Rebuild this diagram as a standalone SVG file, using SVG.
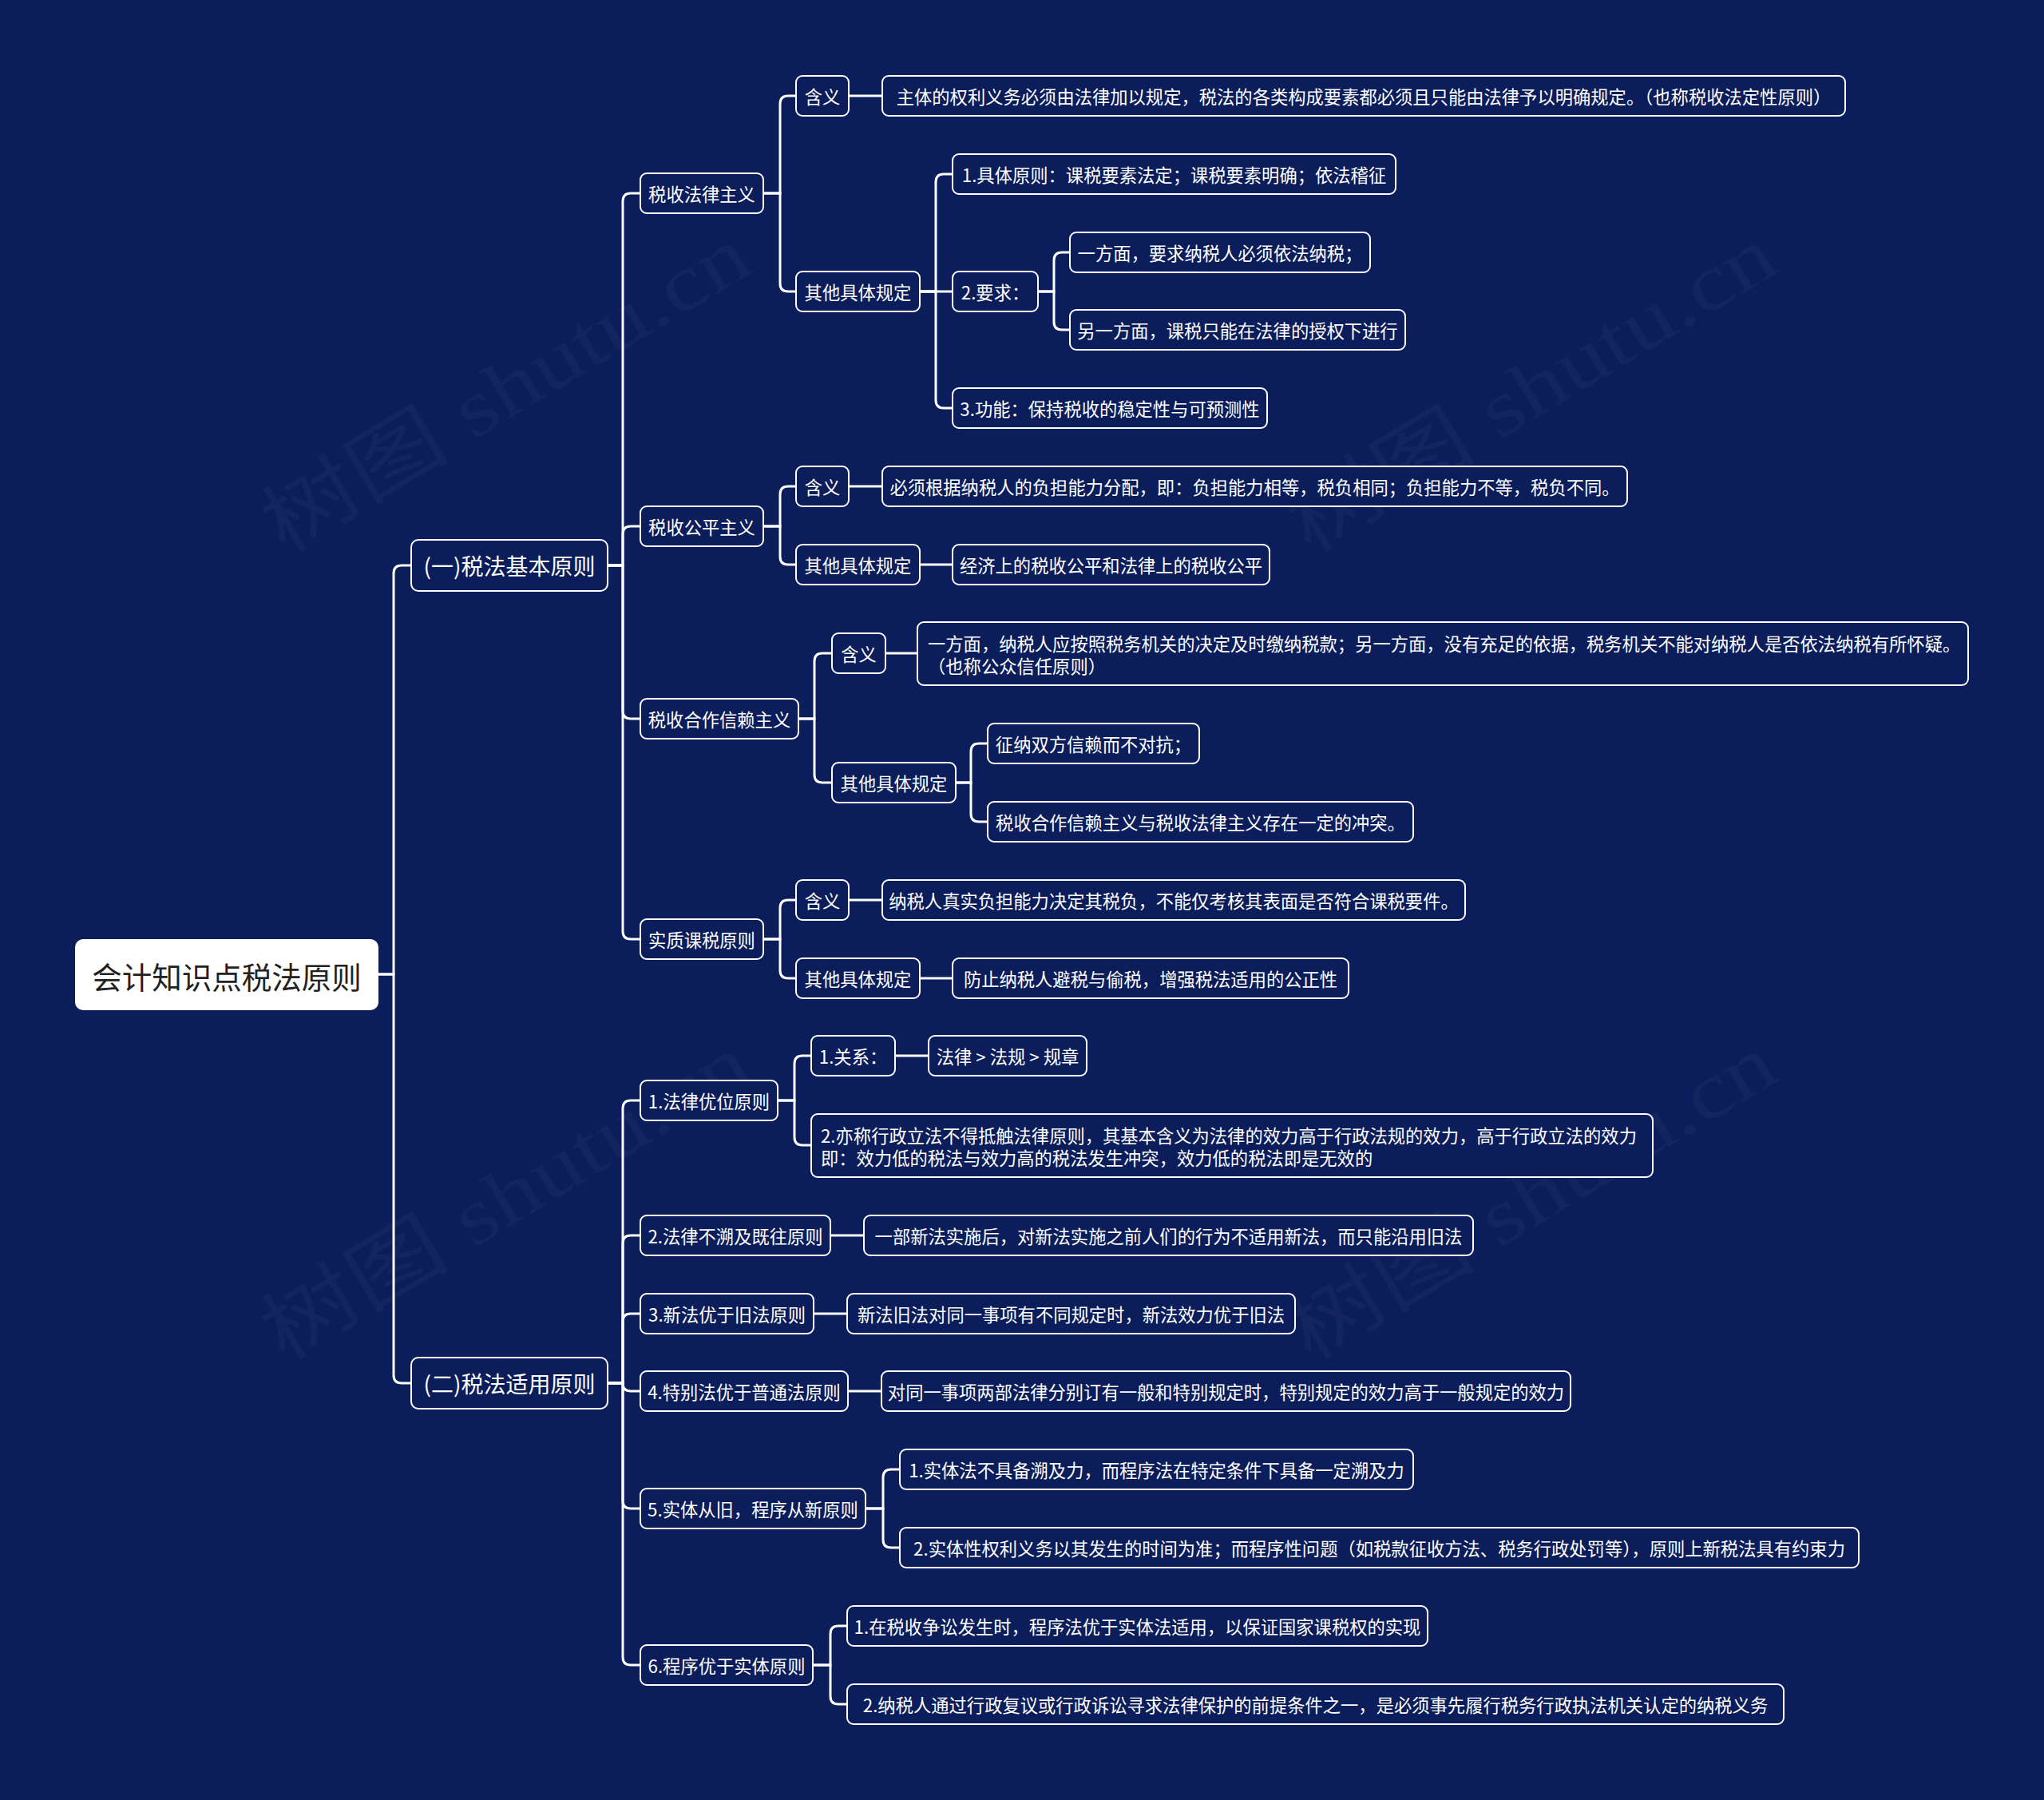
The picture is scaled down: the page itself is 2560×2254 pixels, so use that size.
<svg xmlns="http://www.w3.org/2000/svg" width="2560" height="2254" viewBox="0 0 2560 2254">
<style>
.bg{fill:#0b1d5a}
.n rect{fill:#0b1d5a;stroke:#ffffff;stroke-width:2}
.n text{font-family:"Noto Sans CJK SC","Liberation Sans",sans-serif;font-size:22.3px;fill:#ffffff;dominant-baseline:central}
.n text.m{text-anchor:middle}
.l1 text{font-size:28px}
.root rect{fill:#ffffff;stroke:none}
.root text{font-size:37.5px;fill:#222222}
.c path{fill:none;stroke:#ffffff;stroke-width:3}
.wm{font-family:"Liberation Serif","Noto Sans CJK SC",serif;font-size:100px;fill:#ffffff;opacity:0.032}
</style>
<rect class="bg" x="0" y="0" width="2560" height="2254"/>
<g id="watermarks">
<text class="wm" x="355" y="694" textLength="690" lengthAdjust="spacingAndGlyphs" transform="rotate(-31 355 694)">树图 shutu.cn</text>
<text class="wm" x="1640" y="694" textLength="690" lengthAdjust="spacingAndGlyphs" transform="rotate(-31 1640 694)">树图 shutu.cn</text>
<text class="wm" x="355" y="1706" textLength="690" lengthAdjust="spacingAndGlyphs" transform="rotate(-31 355 1706)">树图 shutu.cn</text>
<text class="wm" x="1640" y="1706" textLength="690" lengthAdjust="spacingAndGlyphs" transform="rotate(-31 1640 1706)">树图 shutu.cn</text>
</g>
<g id="connectors" class="c">
<path d="M474,1220 H493 V718 Q493,708 503,708 H515"/>
<path d="M474,1220 H493 V1722 Q493,1732 503,1732 H515"/>
<path d="M761,708 H780 V252 Q780,242 790,242 H802"/>
<path d="M761,708 H780 V669 Q780,659 790,659 H802"/>
<path d="M761,708 H780 V890 Q780,900 790,900 H802"/>
<path d="M761,708 H780 V1166 Q780,1176 790,1176 H802"/>
<path d="M761,1732 H780 V1388 Q780,1378 790,1378 H802"/>
<path d="M761,1732 H780 V1557 Q780,1547 790,1547 H802"/>
<path d="M761,1732 H780 V1655 Q780,1645 790,1645 H802"/>
<path d="M761,1732 H780 Q780,1742 790,1742 H802"/>
<path d="M761,1732 H780 V1879 Q780,1889 790,1889 H802"/>
<path d="M761,1732 H780 V2075 Q780,2085 790,2085 H802"/>
<path d="M956,242 H977 V130 Q977,120 987,120 H997"/>
<path d="M956,242 H977 V355 Q977,365 987,365 H997"/>
<path d="M1063,120 H1105"/>
<path d="M1152,365 H1172 V228 Q1172,218 1182,218 H1193"/>
<path d="M1152,365 H1193"/>
<path d="M1152,365 H1172 V501 Q1172,511 1182,511 H1193"/>
<path d="M1300,365 H1320 V326 Q1320,316 1330,316 H1340"/>
<path d="M1300,365 H1320 V403 Q1320,413 1330,413 H1340"/>
<path d="M956,659 H977 V619 Q977,609 987,609 H997"/>
<path d="M956,659 H977 V697 Q977,707 987,707 H997"/>
<path d="M1063,609 H1105"/>
<path d="M1152,707 H1193"/>
<path d="M1000,900 H1020 V828 Q1020,818 1030,818 H1042"/>
<path d="M1000,900 H1020 V970 Q1020,980 1030,980 H1042"/>
<path d="M1109,818 H1149"/>
<path d="M1197,980 H1216 V941 Q1216,931 1226,931 H1237"/>
<path d="M1197,980 H1216 V1019 Q1216,1029 1226,1029 H1237"/>
<path d="M956,1176 H977 V1137 Q977,1127 987,1127 H997"/>
<path d="M956,1176 H977 V1215 Q977,1225 987,1225 H997"/>
<path d="M1063,1127 H1105"/>
<path d="M1152,1225 H1193"/>
<path d="M974,1378 H995 V1332 Q995,1322 1005,1322 H1016"/>
<path d="M974,1378 H995 V1424 Q995,1434 1005,1434 H1016"/>
<path d="M1121,1322 H1163"/>
<path d="M1040,1547 H1082"/>
<path d="M1019,1645 H1061"/>
<path d="M1062,1742 H1104"/>
<path d="M1084,1889 H1106 V1850 Q1106,1840 1116,1840 H1127"/>
<path d="M1084,1889 H1106 V1928 Q1106,1938 1116,1938 H1127"/>
<path d="M1018,2085 H1040 V2046 Q1040,2036 1050,2036 H1061"/>
<path d="M1018,2085 H1040 V2124 Q1040,2134 1050,2134 H1061"/>
</g>
<g id="root" class="n root"><rect x="94" y="1176" width="380" height="89" rx="10"/><text class="m" x="284" y="1221">会计知识点税法原则</text></g>
<g id="l1a" class="n l1"><rect x="515" y="676" width="246" height="64" rx="9"/><text class="m" x="638" y="708">(一)税法基本原则</text></g>
<g id="l1b" class="n l1"><rect x="515" y="1700" width="246" height="64" rx="9"/><text class="m" x="638" y="1732">(二)税法适用原则</text></g>

<g id="a1" class="n"><rect x="802" y="217" width="154" height="50" rx="8"/><text class="m" x="879" y="242">税收法律主义</text></g>
<g id="a1-m" class="n"><rect x="997" y="95" width="66" height="50" rx="8"/><text class="m" x="1030" y="120">含义</text></g>
<g id="a1-m1" class="n"><rect x="1105" y="95" width="1206" height="50" rx="8"/><text class="m" x="1708" y="120">主体的权利义务必须由法律加以规定，税法的各类构成要素都必须且只能由法律予以明确规定。（也称税收法定性原则）</text></g>
<g id="a1-o" class="n"><rect x="997" y="340" width="155" height="50" rx="8"/><text class="m" x="1074.5" y="365">其他具体规定</text></g>
<g id="a1-o1" class="n"><rect x="1193" y="193" width="555" height="50" rx="8"/><text class="m" x="1470.5" y="218">1.具体原则：课税要素法定；课税要素明确；依法稽征</text></g>
<g id="a1-o2" class="n"><rect x="1193" y="340" width="107" height="50" rx="8"/><text class="m" x="1246.5" y="365">2.要求：</text></g>
<g id="a1-o2a" class="n"><rect x="1340" y="291" width="376" height="50" rx="8"/><text class="m" x="1528" y="316">一方面，要求纳税人必须依法纳税；</text></g>
<g id="a1-o2b" class="n"><rect x="1340" y="388" width="420" height="50" rx="8"/><text class="m" x="1550" y="413">另一方面，课税只能在法律的授权下进行</text></g>
<g id="a1-o3" class="n"><rect x="1193" y="486" width="394" height="50" rx="8"/><text class="m" x="1390" y="511">3.功能：保持税收的稳定性与可预测性</text></g>

<g id="a2" class="n"><rect x="802" y="634" width="154" height="50" rx="8"/><text class="m" x="879" y="659">税收公平主义</text></g>
<g id="a2-m" class="n"><rect x="997" y="584" width="66" height="50" rx="8"/><text class="m" x="1030" y="609">含义</text></g>
<g id="a2-m1" class="n"><rect x="1105" y="584" width="933" height="50" rx="8"/><text class="m" x="1571.5" y="609">必须根据纳税人的负担能力分配，即：负担能力相等，税负相同；负担能力不等，税负不同。</text></g>
<g id="a2-o" class="n"><rect x="997" y="682" width="155" height="50" rx="8"/><text class="m" x="1074.5" y="707">其他具体规定</text></g>
<g id="a2-o1" class="n"><rect x="1193" y="682" width="397" height="50" rx="8"/><text class="m" x="1391.5" y="707">经济上的税收公平和法律上的税收公平</text></g>

<g id="a3" class="n"><rect x="802" y="875" width="198" height="50" rx="8"/><text class="m" x="901" y="900">税收合作信赖主义</text></g>
<g id="a3-m" class="n"><rect x="1042" y="793" width="67" height="50" rx="8"/><text class="m" x="1075.5" y="818">含义</text></g>
<g id="a3-m1" class="n"><rect x="1149" y="779" width="1316" height="79" rx="8"/><text x="1162" y="804.5">一方面，纳税人应按照税务机关的决定及时缴纳税款；另一方面，没有充足的依据，税务机关不能对纳税人是否依法纳税有所怀疑。</text><text x="1162" y="832.5">（也称公众信任原则）</text></g>
<g id="a3-o" class="n"><rect x="1042" y="955" width="155" height="50" rx="8"/><text class="m" x="1119.5" y="980">其他具体规定</text></g>
<g id="a3-o1" class="n"><rect x="1237" y="906" width="265" height="50" rx="8"/><text class="m" x="1369.5" y="931">征纳双方信赖而不对抗；</text></g>
<g id="a3-o2" class="n"><rect x="1237" y="1004" width="533" height="50" rx="8"/><text class="m" x="1503.5" y="1029">税收合作信赖主义与税收法律主义存在一定的冲突。</text></g>

<g id="a4" class="n"><rect x="802" y="1151" width="154" height="50" rx="8"/><text class="m" x="879" y="1176">实质课税原则</text></g>
<g id="a4-m" class="n"><rect x="997" y="1102" width="66" height="50" rx="8"/><text class="m" x="1030" y="1127">含义</text></g>
<g id="a4-m1" class="n"><rect x="1105" y="1102" width="730" height="50" rx="8"/><text class="m" x="1470" y="1127">纳税人真实负担能力决定其税负，不能仅考核其表面是否符合课税要件。</text></g>
<g id="a4-o" class="n"><rect x="997" y="1200" width="155" height="50" rx="8"/><text class="m" x="1074.5" y="1225">其他具体规定</text></g>
<g id="a4-o1" class="n"><rect x="1193" y="1200" width="496" height="50" rx="8"/><text class="m" x="1441" y="1225">防止纳税人避税与偷税，增强税法适用的公正性</text></g>

<g id="b1" class="n"><rect x="802" y="1353" width="172" height="50" rx="8"/><text class="m" x="888" y="1378">1.法律优位原则</text></g>
<g id="b1-1" class="n"><rect x="1016" y="1297" width="105" height="50" rx="8"/><text class="m" x="1068.5" y="1322">1.关系：</text></g>
<g id="b1-1a" class="n"><rect x="1163" y="1297" width="198" height="50" rx="8"/><text class="m" x="1262" y="1322">法律 &gt; 法规 &gt; 规章</text></g>
<g id="b1-2" class="n"><rect x="1016" y="1395" width="1054" height="79" rx="8"/><text x="1028" y="1420.5">2.亦称行政立法不得抵触法律原则，其基本含义为法律的效力高于行政法规的效力，高于行政立法的效力</text><text x="1028" y="1448.5">即：效力低的税法与效力高的税法发生冲突，效力低的税法即是无效的</text></g>
<g id="b2" class="n"><rect x="802" y="1522" width="238" height="50" rx="8"/><text class="m" x="921" y="1547">2.法律不溯及既往原则</text></g>
<g id="b2-1" class="n"><rect x="1082" y="1522" width="763" height="50" rx="8"/><text class="m" x="1463.5" y="1547">一部新法实施后，对新法实施之前人们的行为不适用新法，而只能沿用旧法</text></g>
<g id="b3" class="n"><rect x="802" y="1620" width="217" height="50" rx="8"/><text class="m" x="910.5" y="1645">3.新法优于旧法原则</text></g>
<g id="b3-1" class="n"><rect x="1061" y="1620" width="561" height="50" rx="8"/><text class="m" x="1341.5" y="1645">新法旧法对同一事项有不同规定时，新法效力优于旧法</text></g>
<g id="b4" class="n"><rect x="802" y="1717" width="260" height="50" rx="8"/><text class="m" x="932" y="1742">4.特别法优于普通法原则</text></g>
<g id="b4-1" class="n"><rect x="1104" y="1717" width="863" height="50" rx="8"/><text class="m" x="1535.5" y="1742">对同一事项两部法律分别订有一般和特别规定时，特别规定的效力高于一般规定的效力</text></g>
<g id="b5" class="n"><rect x="802" y="1864" width="282" height="50" rx="8"/><text class="m" x="943" y="1889">5.实体从旧，程序从新原则</text></g>
<g id="b5-1" class="n"><rect x="1127" y="1815" width="643" height="50" rx="8"/><text class="m" x="1448.5" y="1840">1.实体法不具备溯及力，而程序法在特定条件下具备一定溯及力</text></g>
<g id="b5-2" class="n"><rect x="1127" y="1913" width="1201" height="50" rx="8"/><text class="m" x="1727.5" y="1938">2.实体性权利义务以其发生的时间为准；而程序性问题（如税款征收方法、税务行政处罚等），原则上新税法具有约束力</text></g>
<g id="b6" class="n"><rect x="802" y="2060" width="216" height="50" rx="8"/><text class="m" x="910" y="2085">6.程序优于实体原则</text></g>
<g id="b6-1" class="n"><rect x="1061" y="2011" width="727" height="50" rx="8"/><text class="m" x="1424.5" y="2036">1.在税收争讼发生时，程序法优于实体法适用，以保证国家课税权的实现</text></g>
<g id="b6-2" class="n"><rect x="1061" y="2109" width="1173" height="50" rx="8"/><text class="m" x="1647.5" y="2134">2.纳税人通过行政复议或行政诉讼寻求法律保护的前提条件之一，是必须事先履行税务行政执法机关认定的纳税义务</text></g>
</svg>
